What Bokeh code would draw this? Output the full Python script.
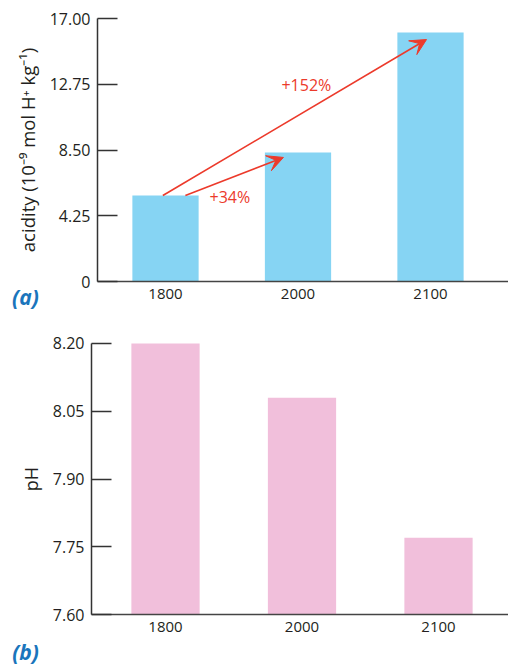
from bokeh.plotting import figure
from bokeh.layouts import column
from bokeh.models import Range1d, FixedTicker, Arrow, VeeHead, Label
from bokeh.embed import file_html
from bokeh.resources import INLINE

# ---- data ----
years = ["1800", "2000", "2100"]
acidity = [5.56, 8.34, 16.09]
ph = [8.20, 8.08, 7.77]
acid_ticks = [0, 4.25, 8.5, 12.75, 17.0]
acid_tick_labels = ["0", "4.25", "8.50", "12.75", "17.00"]
ph_ticks = [7.60, 7.75, 7.90, 8.05, 8.20]
ph_tick_labels = ["7.60", "7.75", "7.90", "8.05", "8.20"]
pct_labels = ["+152%", "+34%"]
arrow_pairs = [(0, 2), (0, 1)]

FONT = "Open Sans"
TXT = "#231f20"
RED = "#ec3a2b"
BLUE_BAR = "#86d4f3"
PINK_BAR = "#f1bfdb"
PANEL_BLUE = "#1a75bc"

xpos = list(range(len(years)))


def style(p, ticks, labels, ylabel, label_size, y_axis_x, x_end, label_standoff):
    p.xgrid.visible = False
    p.ygrid.visible = False
    p.outline_line_color = None
    p.background_fill_color = "white"
    p.border_fill_color = "white"
    ya = p.yaxis[0]
    ya.fixed_location = y_axis_x
    ya.bounds = (ticks[0], ticks[-1])
    ya.ticker = FixedTicker(ticks=ticks)
    ya.major_label_overrides = {t: l for t, l in zip(ticks, labels)}
    ya.major_tick_in = 20
    ya.major_tick_out = 0
    ya.minor_tick_in = 0
    ya.minor_tick_out = 0
    ya.major_tick_line_color = "#333333"
    ya.major_tick_line_width = 1.5
    ya.axis_line_color = "#333333"
    ya.axis_line_width = 1.5
    ya.major_label_text_font = FONT
    ya.major_label_text_font_size = "16px"
    ya.major_label_text_color = TXT
    ya.major_label_standoff = 7
    ya.axis_label = ylabel
    ya.axis_label_text_font = FONT
    ya.axis_label_text_font_style = "normal"
    ya.axis_label_text_font_size = label_size
    ya.axis_label_text_color = TXT
    ya.axis_label_standoff = label_standoff
    xa = p.xaxis[0]
    xa.fixed_location = ticks[0]
    xa.bounds = (y_axis_x, x_end)
    xa.ticker = FixedTicker(ticks=xpos)
    xa.major_label_overrides = {i: y for i, y in enumerate(years)}
    xa.major_tick_in = 0
    xa.major_tick_out = 0
    xa.minor_tick_in = 0
    xa.minor_tick_out = 0
    xa.axis_line_color = "#444444"
    xa.axis_line_width = 1.5
    xa.major_label_text_font = FONT
    xa.major_label_text_font_size = "15px"
    xa.major_label_text_color = TXT
    xa.major_label_standoff = 7


# ---- panel (a) ----
x1 = (-1.2453, 2.5887)
p1 = figure(width=508, height=320, output_backend="svg", toolbar_location=None,
            x_range=Range1d(*x1), y_range=Range1d(-2.5209, 18.1635),
            min_border=0)
p1.vbar(x=xpos, top=acidity, bottom=0, width=0.5, fill_color=BLUE_BAR, line_color=None)
style(p1, acid_ticks, acid_tick_labels, "acidity (10\u207b\u2079 mol H\u207a kg\u207b\u00b9)",
      "18.5px", -0.5132, x1[1], 7)

start_dx = [-0.02, 0.15]
end_dx = [-0.03, -0.11]
end_dy = [-0.45, -0.32]
for k, (i, j) in enumerate(arrow_pairs):
    p1.add_layout(Arrow(x_start=xpos[i] + start_dx[k], y_start=acidity[i],
                        x_end=xpos[j] + end_dx[k], y_end=acidity[j] + end_dy[k],
                        line_color=RED, line_width=1.6,
                        end=VeeHead(size=16, fill_color=RED, line_color=RED, line_width=1)))

pct_x = [0.875, 0.332]
pct_y = [12.67, 5.49]
for t, lx, ly in zip(pct_labels, pct_x, pct_y):
    p1.add_layout(Label(x=lx, y=ly, text=t, text_color=RED, text_font=FONT,
                        text_font_size="16px", text_align="left", text_baseline="middle"))

p1.add_layout(Label(x=-1.057, y=-1.034, text="(a)", text_color=PANEL_BLUE, text_font=FONT,
                    text_font_size="21px", text_font_style="bold italic",
                    text_align="center", text_baseline="middle"))

# ---- panel (b) ----
x2 = (-1.2088, 2.5128)
p2 = figure(width=508, height=346, output_backend="svg", toolbar_location=None,
            x_range=Range1d(*x2), y_range=Range1d(7.4849, 8.2509),
            min_border=0)
p2.vbar(x=xpos, top=ph, bottom=ph_ticks[0], width=0.5, fill_color=PINK_BAR, line_color=None)
style(p2, ph_ticks, ph_tick_labels, "pH", "18px", -0.5421, x2[1], 7)
p2.add_layout(Label(x=-1.0256, y=7.517, text="(b)", text_color=PANEL_BLUE, text_font=FONT,
                    text_font_size="21px", text_font_style="bold italic",
                    text_align="center", text_baseline="middle"))

layout = column(p1, p2, spacing=0)
open("out.html", "w").write(file_html(layout, INLINE))
